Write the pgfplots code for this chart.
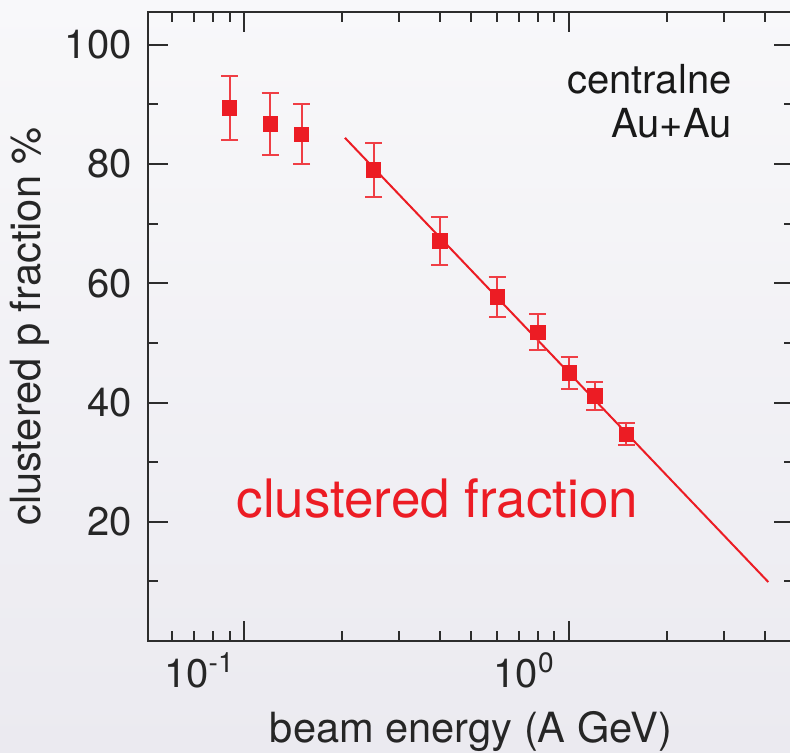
\documentclass[border=0pt]{standalone}
\usepackage{fontspec}
\setmainfont{TeX Gyre Heros}
\usepackage{pgfplots}
\pgfplotsset{compat=1.18}
\definecolor{clred}{RGB}{236,28,36}
\definecolor{axgray}{RGB}{45,45,45}

% energy (A GeV), clustered fraction, error
\pgfplotstableread{
x     y     ey
0.09  89.4  5.3
0.12  86.7  5.2
0.15  85.0  5.0
0.25  79.0  4.6
0.4   67.1  4.0
0.6   57.7  3.4
0.8   51.8  3.0
1.0   45.0  2.7
1.2   41.1  2.3
1.5   34.7  1.8
}\clustered

\begin{document}
\begin{tikzpicture}
% background, 1px = 0.5pt
\shade[top color={rgb,255:red,248;green,248;blue,250}, bottom color={rgb,255:red,235;green,234;blue,240}]
  (-74pt,-55.5pt) rectangle (321pt,320.5pt);
\begin{axis}[
  xmode=log,
  scale only axis,
  width=323pt, height=314.5pt,
  xmin=0.0505, xmax=4.92,
  ymin=0, ymax=105.5,
  xtick={0.1,1},
  xticklabels={10\textsuperscript{-1},10\textsuperscript{0}},
  minor xtick={0.06,0.07,0.08,0.09,0.2,0.3,0.4,0.5,0.6,0.7,0.8,0.9,2,3,4},
  ytick={20,40,60,80,100},
  minor ytick={10,30,50,70,90},
  /pgf/number format/assume math mode=true,
  tick label style={font=\fontsize{20}{22}\selectfont, text=black!85},
  yticklabel style={inner sep=0pt, xshift=-8pt},
  xticklabel style={inner sep=0pt, yshift=-5.5pt, xshift=-22.5pt},
  axis line style={draw=axgray, line width=1pt},
  tick style={draw=axgray, line width=1pt},
  major tick length=10pt,
  minor tick length=5pt,
  xlabel={beam energy (A GeV)},
  ylabel={clustered p fraction \%},
  label style={font=\fontsize{20.8}{24}\selectfont, text=black!85},
  xlabel style={at={(rel axis cs:0.5,0)}, anchor=base, yshift=-50.5pt},
  ylabel style={at={(rel axis cs:0,0.5)}, anchor=center, rotate=0, yshift=59pt},
]
\addplot[clred, line width=1pt] coordinates {(0.204,84.4) (4.1,9.9)};
\addplot[clred, only marks, mark=square*, mark size=3.6pt,
  error bars/.cd, y dir=both, y explicit,
  error bar style={clred!85, line width=1pt},
  error mark options={clred!85, rotate=90, mark size=4.25pt, line width=1pt}]
  table[x=x, y=y, y error=ey] {\clustered};
\node[anchor=base east, inner sep=0pt, font=\fontsize{20}{22}\selectfont, text=black!90] at (axis cs:3.17,91.9) {centralne};
\node[anchor=base east, inner sep=0pt, font=\fontsize{20}{22}\selectfont, text=black!90] at (axis cs:3.17,84.4) {Au+Au};
\node[anchor=base, inner sep=0pt, font=\fontsize{26.5}{30}\selectfont, text=clred] at (axis cs:0.393,20.8) {clustered fraction};
\end{axis}
\pgfresetboundingbox
\path (-74pt,-55.5pt) rectangle (321pt,320.5pt);
\end{tikzpicture}
\end{document}
